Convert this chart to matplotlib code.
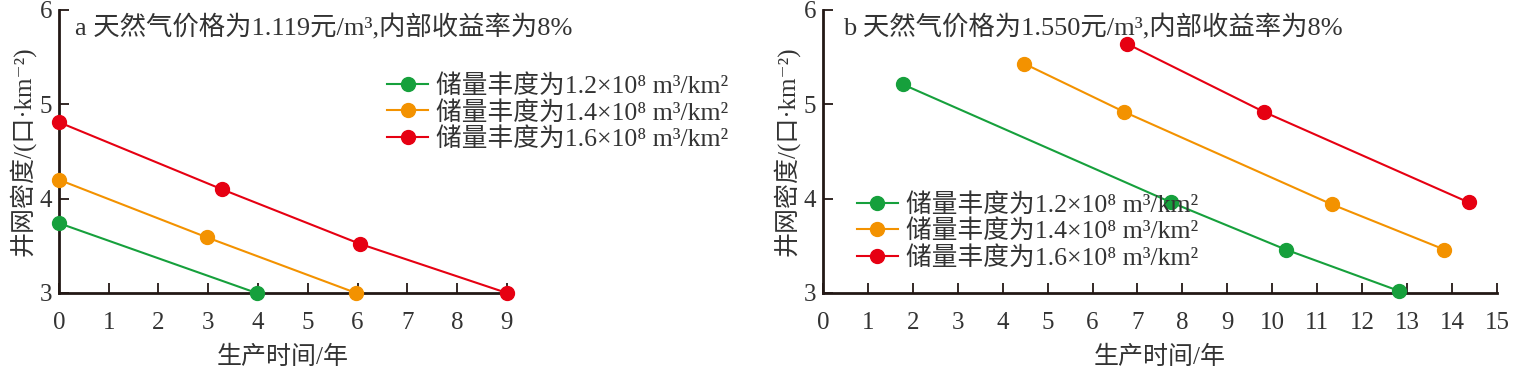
import numpy as np
import matplotlib
matplotlib.use('Agg')
import matplotlib.pyplot as plt

plt.rcParams['font.family'] = ['Liberation Serif', 'Noto Sans CJK SC', 'DejaVu Serif']

# panel a: natural gas price 1.119 yuan/m3
a_green_x = [0, 3.97]
a_green_y = [3.74, 3.0]
a_orange_x = [0, 2.97, 5.97]
a_orange_y = [4.2, 3.59, 3.0]
a_red_x = [0, 3.27, 6.05, 9.0]
a_red_y = [4.81, 4.10, 3.52, 3.0]

# panel b: natural gas price 1.550 yuan/m3
b_green_x = [1.78, 7.75, 10.3, 12.83]
b_green_y = [5.21, 3.96, 3.46, 3.02]
b_orange_x = [4.48, 6.70, 11.32, 13.83]
b_orange_y = [5.43, 4.92, 3.94, 3.46]
b_red_x = [6.77, 9.81, 14.37]
b_red_y = [5.64, 4.92, 3.96]

labels = ['储量丰度为1.2×10⁸ m³/km²',
          '储量丰度为1.4×10⁸ m³/km²',
          '储量丰度为1.6×10⁸ m³/km²']
colors = ['#16a03c', '#f39200', '#e60012']

fig = plt.figure(figsize=(15.15, 3.72), dpi=100)
ax1 = fig.add_axes([0.0389, 0.2124, 0.2957, 0.761])
ax2 = fig.add_axes([0.5432, 0.2124, 0.4449, 0.761])


def style(ax, xmax):
    ax.set_xlim(0, xmax)
    ax.set_ylim(3, 6)
    ax.set_xticks(range(0, xmax + 1))
    ax.set_yticks([3, 4, 5, 6])
    for s in ['top', 'right']:
        ax.spines[s].set_visible(False)
    for s in ['left', 'bottom']:
        ax.spines[s].set_linewidth(2.0)
        ax.spines[s].set_color('#231815')
    ax.tick_params(direction='in', length=7, width=1.3, labelsize=18,
                   colors='#231815', labelcolor='#333333')
    ax.tick_params(axis='x', pad=14)
    ax.tick_params(axis='y', pad=5)
    ax.set_xlabel('生产时间/年', fontsize=18, color='#333333', labelpad=8)
    ax.set_ylabel('井网密度/(口·km⁻²)', fontsize=18, color='#333333', labelpad=3)


series_a = [(a_green_x, a_green_y), (a_orange_x, a_orange_y), (a_red_x, a_red_y)]
series_b = [(b_green_x, b_green_y), (b_orange_x, b_orange_y), (b_red_x, b_red_y)]

for ax, series in [(ax1, series_a), (ax2, series_b)]:
    for (xs, ys), c, lab in zip(series, colors, labels):
        ax.plot(xs, ys, color=c, lw=1.5, marker='o', markersize=10,
                label=lab, clip_on=False, zorder=3)

style(ax1, 9)
style(ax2, 15)

ax1.text(0.035, 0.985, 'a 天然气价格为1.119元/m³,内部收益率为8%', fontsize=19,
         color='#333333', va='top', transform=ax1.transAxes)
ax2.text(0.03, 0.985, 'b 天然气价格为1.550元/m³,内部收益率为8%', fontsize=19,
         color='#333333', va='top', transform=ax2.transAxes)

leg1 = ax1.legend(loc='upper left', bbox_to_anchor=(0.71, 0.81), frameon=False,
                  fontsize=18.5, handlelength=1.6, handletextpad=0.3,
                  labelspacing=0.12, borderaxespad=0)
leg2 = ax2.legend(loc='upper left', bbox_to_anchor=(0.035, 0.39), frameon=False,
                  fontsize=18.5, handlelength=1.6, handletextpad=0.3,
                  labelspacing=0.12, borderaxespad=0)
for leg in (leg1, leg2):
    for t in leg.get_texts():
        t.set_color('#333333')

fig.savefig('out.png', dpi=100)
